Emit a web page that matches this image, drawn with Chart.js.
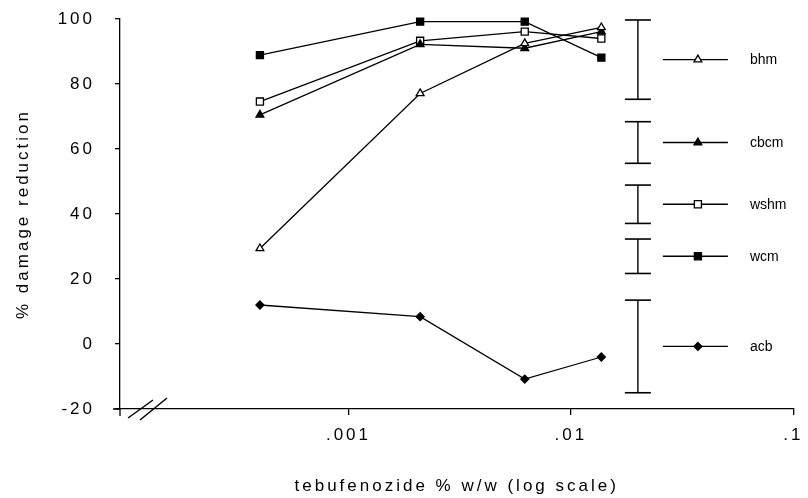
<!DOCTYPE html>
<html>
<head>
<meta charset="utf-8">
<script src="https://cdn.jsdelivr.net/npm/chart.js@4"></script>
<style>
  body { margin: 0; background: #fff; }
  #wrap { width: 808px; height: 498px; }
</style>
</head>
<body>
<div id="wrap"><canvas id="doseChart"></canvas></div>
<script>
// doses (% w/w) and % damage reduction per pest
const doses = [0.0004, 0.0021, 0.0062, 0.0137];
const seriesNames = ['bhm', 'cbcm', 'wshm', 'wcm', 'acb'];
const bhm  = [29.4, 77.1, 92.5, 97.4];
const cbcm = [70.5, 92.2, 91.0, 96.1];
const wshm = [74.6, 93.3, 96.1, 94.0];
const wcm  = [88.9, 99.2, 99.2, 88.1];
const acb  = [12.0, 8.4, -10.8, -4.0];

// LSD bars drawn beside the legend, same order as seriesNames
const lsdDose = 0.02;
const lsdHigh = [99.7, 68.4, 48.9, 32.3, 13.5];
const lsdLow  = [75.3, 55.6, 37.1, 21.7, -15.0];

const xTickValues = [0.001, 0.01, 0.1];
const xTickLabels = ['.001', '.01', '.1'];
const yTickLabels = ['-20', '0', '20', '40', '60', '80', '100'];

const seriesValues = [bhm, cbcm, wshm, wcm, acb];
const markerStyle = [
    { pointStyle: 'triangle', fill: '#fff', radius: 4.5 },
    { pointStyle: 'triangle', fill: '#000', radius: 4.5 },
    { pointStyle: 'rect', fill: '#fff', radius: 5 },
    { pointStyle: 'rect', fill: '#000', radius: 5 },
    { pointStyle: 'rectRot', fill: '#000', radius: 4 }
];

const font = 'Liberation Sans, Arial, Helvetica, sans-serif';

const lineSets = seriesValues.map((vals, i) => ({
    label: seriesNames[i],
    data: vals.map((v, j) => ({ x: doses[j], y: v })),
    showLine: true,
    borderColor: '#000',
    borderWidth: 1.3,
    pointStyle: markerStyle[i].pointStyle,
    pointRadius: markerStyle[i].radius,
    pointBackgroundColor: markerStyle[i].fill,
    pointBorderColor: '#000',
    pointBorderWidth: 1.3,
    tension: 0,
    clip: false
}));

const lsdSets = lsdHigh.map((hi, i) => ({
    label: 'lsd ' + seriesNames[i],
    data: [{ x: lsdDose, y: hi }, { x: lsdDose, y: lsdLow[i] }],
    showLine: true,
    borderColor: '#000',
    borderWidth: 1.4,
    pointStyle: 'line',
    pointRadius: 13,
    pointBorderColor: '#000',
    pointBorderWidth: 1.6,
    clip: false
}));

// old plotter look: spaced-out axis lettering, key and axis break
const paperPlugin = {
    id: 'paper',
    beforeDraw(chart) {
        chart.ctx.letterSpacing = '3px';
    },
    afterDatasetsDraw(chart) {
        chart.ctx.letterSpacing = '0px';
    },
    afterDraw(chart) {
        const ctx = chart.ctx;
        const xs = chart.scales.x, ys = chart.scales.y;
        const area = chart.chartArea;
        ctx.save();
        ctx.letterSpacing = '0px';
        ctx.strokeStyle = '#000';
        ctx.fillStyle = '#000';
        ctx.lineWidth = 1.3;

        // axes poke past the corner
        ctx.beginPath();
        ctx.moveTo(area.left, area.bottom);
        ctx.lineTo(area.left, area.bottom + 7);
        ctx.moveTo(area.left - 7, area.bottom);
        ctx.lineTo(area.left, area.bottom);
        ctx.stroke();

        // axis break //
        ctx.lineWidth = 1.5;
        ctx.beginPath();
        ctx.moveTo(area.left + 8, area.bottom + 9);
        ctx.lineTo(area.left + 33, area.bottom - 9);
        ctx.moveTo(area.left + 20, area.bottom + 11);
        ctx.lineTo(area.left + 47, area.bottom - 11);
        ctx.stroke();

        // key beside each LSD bar
        const bx = xs.getPixelForValue(lsdDose);
        ctx.font = '14px ' + font;
        ctx.textAlign = 'left';
        ctx.textBaseline = 'middle';
        seriesNames.forEach((name, i) => {
            const cy = ys.getPixelForValue((lsdHigh[i] + lsdLow[i]) / 2);
            ctx.lineWidth = 1.3;
            ctx.strokeStyle = '#000';
            ctx.beginPath();
            ctx.moveTo(bx + 25, cy);
            ctx.lineTo(bx + 90, cy);
            ctx.stroke();
            ctx.fillStyle = markerStyle[i].fill;
            ctx.strokeStyle = '#000';
            if (Chart.helpers && Chart.helpers.drawPoint) {
                Chart.helpers.drawPoint(ctx, {
                    pointStyle: markerStyle[i].pointStyle,
                    radius: markerStyle[i].radius,
                    rotation: 0,
                    borderWidth: 1.3
                }, bx + 60, cy);
            }
            ctx.fillStyle = '#000';
            ctx.fillText(name, bx + 112, cy + 1);
        });
        ctx.restore();
    }
};

const ctx = document.getElementById('doseChart').getContext('2d');
const chart = new Chart(ctx, {
    type: 'scatter',
    data: { datasets: lineSets.concat(lsdSets) },
    options: {
        responsive: true,
        maintainAspectRatio: false,
        animation: false,
        events: [],
        layout: {
            padding: { top: 19, right: 7, left: 0, bottom: 0 }
        },
        plugins: {
            legend: { display: false },
            tooltip: { enabled: false }
        },
        scales: {
            x: {
                type: 'logarithmic',
                min: 0.000094,
                max: 0.1,
                bounds: 'data',
                afterBuildTicks: function(scale) {
                    scale.ticks = xTickValues.map(v => ({ value: v }));
                },
                afterFit: function(scale) {
                    scale.height = 89;
                    scale.paddingLeft = 0;
                    scale.paddingRight = 0;
                },
                ticks: {
                    color: '#000',
                    padding: 10,
                    maxRotation: 0,
                    autoSkip: false,
                    font: { family: font, size: 17 },
                    callback: function(value) {
                        const k = xTickValues.indexOf(value);
                        return k >= 0 ? xTickLabels[k] : '';
                    }
                },
                grid: {
                    drawOnChartArea: false,
                    color: '#000',
                    tickLength: 6,
                    lineWidth: 1.3
                },
                border: { color: '#000', width: 1.3 },
                title: {
                    display: true,
                    text: 'tebufenozide % w/w (log scale)',
                    color: '#000',
                    padding: { top: 0, bottom: 1 },
                    font: { family: font, size: 17 }
                }
            },
            y: {
                min: -20,
                max: 100,
                afterFit: function(scale) {
                    scale.width = 120;
                    scale.paddingTop = 0;
                    scale.paddingBottom = 0;
                },
                ticks: {
                    stepSize: 20,
                    color: '#000',
                    padding: 20,
                    font: { family: font, size: 17 },
                    callback: function(value) {
                        const k = Math.round((value + 20) / 20);
                        return yTickLabels[k];
                    }
                },
                grid: {
                    drawOnChartArea: false,
                    color: '#000',
                    tickLength: 5,
                    lineWidth: 1.3
                },
                border: { color: '#000', width: 1.3 },
                title: {
                    display: true,
                    text: '% damage reduction',
                    color: '#000',
                    padding: { top: 13, bottom: 0 },
                    font: { family: font, size: 17 }
                }
            }
        }
    },
    plugins: [paperPlugin]
});
</script>
</body>
</html>
